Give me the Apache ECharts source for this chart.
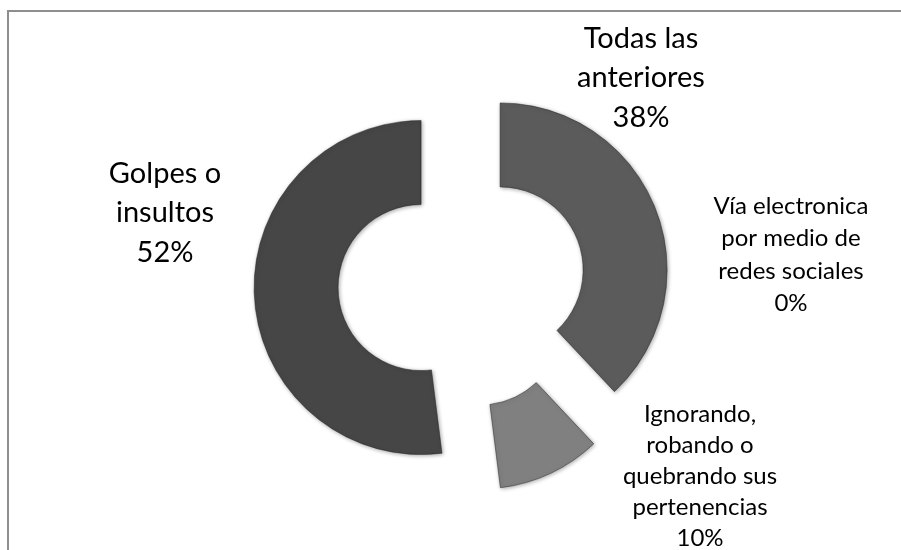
<!DOCTYPE html>
<html>
<head>
<meta charset="utf-8">
<script src="https://cdn.jsdelivr.net/npm/echarts@6/dist/echarts.min.js"></script>
<style>
html, body { margin: 0; padding: 0; background: #fff; overflow: hidden; }
#chart { position: absolute; left: 0; top: 0; width: 901px; height: 550px; }
.frame {
  position: absolute; left: 7px; top: 10px; width: 1000px; height: 1000px;
  border-top: 2px solid #8e8e8e; border-left: 2px solid #8e8e8e;
  pointer-events: none;
}
</style>
</head>
<body>
<div id="chart"></div>
<div class="frame"></div>
<script>
// categorias (con el salto de linea que usa la etiqueta)
var categories = [
  'Todas las\nanteriores',
  'Vía electronica\npor medio de\nredes sociales',
  'Ignorando,\nrobando o\nquebrando sus\npertenencias',
  'Golpes o\ninsultos'
];
var values = [38, 0, 10, 52];
var colors = ['#5b5b5b', '#5b5b5b', '#808080', '#464646'];

// donde va cada etiqueta
var labelPos = [
  { x: 641, y: 78, size: 29, lh: 39.5 },
  { x: 791, y: 255, size: 24, lh: 32.5 },
  { x: 700, y: 476, size: 24, lh: 31 },
  { x: 165, y: 213, size: 29, lh: 39.5 }
];

var chart = echarts.init(document.getElementById('chart'));

var data = [];
var labels = [];
for (var i = 0; i < categories.length; i++) {
  data.push({
    name: categories[i],
    value: values[i],
    selected: true,
    itemStyle: values[i] === 0 ? { color: colors[i], opacity: 0 } : { color: colors[i] }
  });
  labels.push({
    type: 'text',
    x: labelPos[i].x,
    y: labelPos[i].y,
    silent: true,
    style: {
      text: categories[i] + '\n' + values[i] + '%',
      fill: '#000',
      font: labelPos[i].size + 'px Lato',
      lineHeight: labelPos[i].lh,
      align: 'center',
      verticalAlign: 'middle'
    }
  });
}

chart.setOption({
  animation: false,
  graphic: labels,
  series: [
    {
      type: 'pie',
      center: [462, 285],
      radius: [83, 167],
      startAngle: 90,
      clockwise: true,
      selectedMode: 'multiple',
      selectedOffset: 41,
      emphasis: { disabled: true },
      itemStyle: {
        borderColor: 'rgba(30,30,30,0.6)',
        borderWidth: 0.8,
        shadowBlur: 4,
        shadowColor: 'rgba(0,0,0,0.35)',
        shadowOffsetX: 1,
        shadowOffsetY: 1
      },
      label: { show: false },
      labelLine: { show: false },
      data: data
    }
  ]
});
</script>
</body>
</html>
